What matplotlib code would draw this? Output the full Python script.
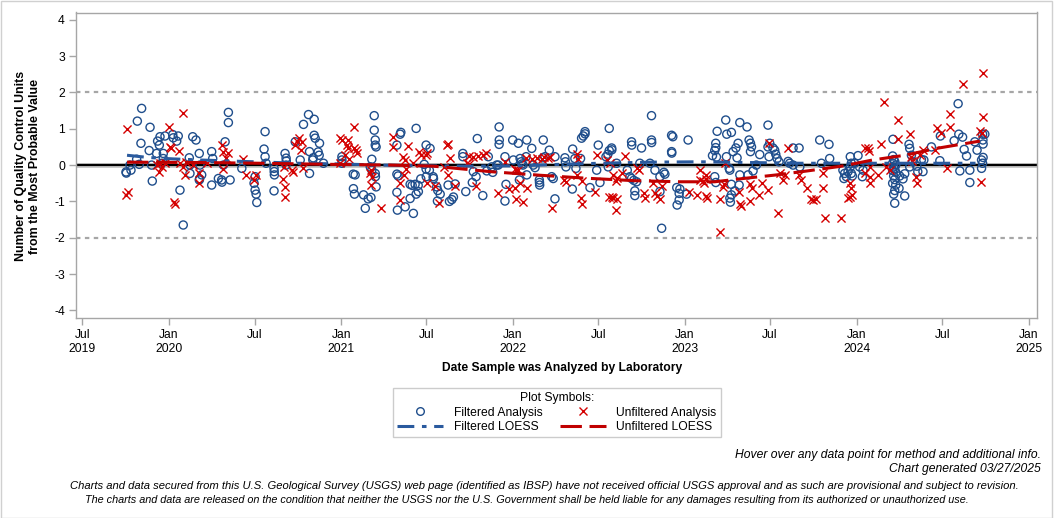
import datetime as dt
import matplotlib
matplotlib.use("Agg")
import matplotlib.pyplot as plt
import matplotlib.dates as mdates
from matplotlib.lines import Line2D
from matplotlib.patches import Rectangle

plt.rcParams["font.family"] = ["Liberation Sans", "DejaVu Sans"]
plt.rcParams["axes.unicode_minus"] = False

# Filtered analysis (decimal year, QC units)
f_year = [
    2019.841, 2019.816, 2019.890, 2019.837, 2019.885, 2019.750, 2019.752, 2019.779, 2019.773, 2019.827,
    2019.812, 2019.899, 2019.903, 2019.934, 2019.948, 2019.944, 2019.928, 2019.967, 2019.977, 2020.022,
    2020.025, 2020.045, 2020.054, 2019.967, 2019.958, 2020.064, 2020.083, 2020.138, 2020.157, 2020.118,
    2020.176, 2020.122, 2020.190, 2020.176, 2020.178, 2020.122, 2020.180, 2020.248, 2020.254, 2020.248,
    2020.287, 2020.306, 2020.308, 2020.355, 2020.326, 2020.345, 2020.345, 2020.316, 2020.423, 2020.558,
    2020.552, 2020.558, 2020.564, 2020.500, 2020.494, 2020.500, 2020.506, 2020.510, 2020.610, 2020.611,
    2020.612, 2020.610, 2020.674, 2020.680, 2020.681, 2020.680, 2020.781, 2020.762, 2020.810, 2020.816,
    2020.816, 2020.733, 2020.843, 2020.843, 2020.849, 2020.874, 2020.866, 2020.872, 2020.837, 2020.835,
    2020.897, 2021.004, 2021.004, 2021.004, 2021.070, 2021.081, 2021.071, 2021.077, 2021.130, 2021.157,
    2021.173, 2021.140, 2021.192, 2021.192, 2021.198, 2021.198, 2021.203, 2021.178, 2021.169, 2021.178,
    2021.198, 2021.199, 2021.203, 2021.324, 2021.331, 2021.324, 2021.327, 2021.343, 2021.347, 2021.324,
    2021.372, 2021.420, 2021.436, 2021.401, 2021.413, 2021.430, 2021.448, 2021.449, 2021.436, 2021.401,
    2021.463, 2021.494, 2021.517, 2021.483, 2021.494, 2021.513, 2021.495, 2021.535, 2021.537, 2021.556,
    2021.562, 2021.576, 2021.560, 2021.622, 2021.630, 2021.644, 2021.653, 2021.663, 2021.708, 2021.708,
    2021.725, 2021.763, 2021.769, 2021.785, 2021.792, 2021.824, 2021.856, 2021.847, 2021.882, 2021.919,
    2021.919, 2021.914, 2021.920, 2021.998, 2022.031, 2022.080, 2022.176, 2021.876, 2021.953, 2021.905,
    2021.959, 2021.953, 2022.002, 2022.041, 2022.047, 2022.052, 2022.058, 2022.076, 2022.109, 2022.080,
    2022.037, 2022.118, 2022.128, 2022.153, 2022.154, 2022.155, 2022.174, 2022.186, 2022.211, 2022.225,
    2022.234, 2022.244, 2022.244, 2022.302, 2022.305, 2022.308, 2022.347, 2022.345, 2022.360, 2022.366,
    2022.399, 2022.409, 2022.419, 2022.419, 2022.393, 2022.448, 2022.496, 2022.487, 2022.506, 2022.560,
    2022.541, 2022.552, 2022.560, 2022.574, 2022.575, 2022.554, 2022.603, 2022.665, 2022.680, 2022.690,
    2022.703, 2022.719, 2022.690, 2022.691, 2022.709, 2022.709, 2022.748, 2022.738, 2022.806, 2022.806,
    2022.807, 2022.797, 2022.826, 2022.855, 2022.878, 2022.884, 2022.855, 2022.865, 2022.923, 2022.930,
    2022.923, 2022.924, 2023.019, 2022.953, 2022.971, 2022.967, 2022.967, 2022.955, 2023.010, 2023.238,
    2023.188, 2023.244, 2023.271, 2023.180, 2023.180, 2023.174, 2023.161, 2023.184, 2023.281, 2023.297,
    2023.310, 2023.242, 2023.258, 2023.262, 2023.174, 2023.180, 2023.271, 2023.291, 2023.271, 2023.262,
    2023.265, 2023.316, 2023.320, 2023.362, 2023.374, 2023.382, 2023.388, 2023.382, 2023.304, 2023.320,
    2023.368, 2023.397, 2023.416, 2023.436, 2023.484, 2023.484, 2023.494, 2023.490, 2023.513, 2023.523,
    2023.529, 2023.537, 2023.548, 2023.601, 2023.610, 2023.630, 2023.630, 2023.665, 2023.785, 2023.839,
    2023.843, 2023.795, 2023.669, 2023.920, 2023.930, 2023.926, 2023.940, 2023.950, 2023.963, 2023.969,
    2023.963, 2023.969, 2023.975, 2023.988, 2024.008, 2024.017, 2024.033, 2024.037, 2024.211, 2024.209,
    2024.215, 2024.221, 2024.209, 2024.227, 2024.215, 2024.221, 2024.209, 2024.227, 2024.215, 2024.221,
    2024.209, 2024.227, 2024.221, 2024.215, 2024.221, 2024.304, 2024.308, 2024.318, 2024.326, 2024.308,
    2024.279, 2024.269, 2024.250, 2024.246, 2024.279, 2024.376, 2024.390, 2024.349, 2024.355, 2024.385,
    2024.434, 2024.486, 2024.483, 2024.566, 2024.589, 2024.593, 2024.615, 2024.599, 2024.624, 2024.638,
    2024.657, 2024.657, 2024.686, 2024.699, 2024.731, 2024.744, 2024.734, 2024.734, 2024.725, 2024.731,
    2024.725, 2024.733,
]
f_value = [
    1.56, 1.21, 1.04, 0.60, 0.40, -0.19, -0.22, -0.14, 0.00, 0.02,
    0.16, 0.00, -0.44, 0.66, 0.78, 0.55, 0.32, 0.32, 0.80, 0.84,
    0.75, 0.66, 0.80, 0.18, 0.05, -0.69, -1.65, 0.78, 0.69, 0.20,
    0.32, -0.23, -0.27, -0.41, -0.38, 0.00, 0.00, 0.37, 0.18, -0.55,
    -0.37, -0.41, -0.47, -0.41, 0.64, 1.45, 1.17, 0.00, -0.09, 0.92,
    0.44, 0.23, 0.05, -0.32, -0.50, -0.69, -0.80, -1.03, -0.09, -0.18,
    -0.27, -0.71, 0.32, 0.19, 0.11, 0.00, 1.12, 0.14, 1.39, 0.37,
    -0.23, 0.64, 1.26, 0.82, 0.74, 0.60, 0.36, 0.27, 0.20, 0.14,
    0.05, 0.23, 0.14, 0.05, -0.25, -0.27, -0.65, -0.80, -0.82, -0.93,
    -0.89, -1.19, 1.36, 0.96, 0.69, 0.55, 0.50, 0.16, -0.05, -0.14,
    -0.23, -0.32, -0.60, -0.25, -0.30, -0.75, -1.24, 0.85, 0.90, 0.55,
    -1.15, -1.33, 1.01, -0.53, -0.56, -0.53, -0.56, -0.73, -0.80, -0.92,
    -0.38, 0.55, 0.46, 0.02, -0.11, -0.14, -0.32, -0.32, -0.37, -0.60,
    -0.70, -0.80, -0.99, -0.55, -1.00, -0.95, -0.88, -0.52, 0.32, 0.23,
    -0.73, -0.48, -0.18, -0.32, 0.73, -0.84, 0.23, -0.16, -0.20, 1.05,
    0.57, 0.00, 0.69, 0.69, 0.60, 0.69, 0.69, -0.05, 0.23, 0.00,
    -0.53, -0.99, 0.14, 0.18, 0.09, 0.03, 0.00, 0.23, 0.46, -0.27,
    -0.41, 0.00, -0.07, -0.41, -0.48, -0.55, 0.20, 0.23, 0.41, -0.32,
    -0.37, 0.23, -0.93, 0.20, 0.09, -0.05, 0.44, -0.66, 0.18, -0.09,
    0.74, 0.80, 0.92, 0.86, 0.18, -0.62, 0.55, -0.14, -0.48, 1.01,
    0.23, 0.30, 0.40, 0.47, 0.42, -0.05, 0.05, -0.14, -0.32, -0.37,
    -0.42, -0.46, 0.64, 0.55, -0.71, -0.84, 0.47, 0.05, 1.36, 0.69,
    0.62, 0.05, -0.14, -0.32, -0.20, -0.25, -0.73, -1.74, 0.82, 0.78,
    0.37, 0.33, 0.69, -0.62, -0.66, -0.78, -0.96, -1.10, -0.80, 1.24,
    0.93, 0.85, 0.90, 0.60, 0.48, 0.40, 0.26, 0.22, 0.37, 0.47,
    0.60, 0.23, -0.09, -0.14, -0.32, -0.48, -0.53, -0.71, -0.82, -0.91,
    -1.02, -0.55, 1.17, 1.05, 0.69, 0.60, 0.50, 0.37, 0.20, -0.27,
    -0.27, -0.16, 0.00, 0.29, 1.10, 0.50, 0.60, 0.23, 0.47, 0.41,
    0.30, 0.18, 0.09, 0.10, 0.05, 0.00, 0.47, 0.47, 0.69, 0.57,
    0.18, 0.05, -0.05, -0.14, -0.23, -0.37, -0.32, -0.18, 0.23, 0.05,
    -0.05, -0.23, -0.30, 0.05, 0.26, -0.05, -0.32, -0.14, 0.71, 0.25,
    0.15, 0.10, 0.05, 0.00, -0.05, -0.10, -0.15, -0.20, -0.30, -0.40,
    -0.50, -0.55, -0.70, -0.80, -1.05, 0.57, 0.46, 0.27, 0.09, -0.05,
    -0.24, -0.38, -0.30, -0.64, -0.85, 0.15, 0.14, -0.03, -0.18, -0.18,
    0.50, 0.80, 0.12, 0.67, 1.69, 0.85, 0.77, -0.16, 0.43, 0.25,
    -0.14, -0.48, 0.64, 0.41, 0.85, 0.85, 0.58, 0.21, 0.14, 0.05,
    -0.09, 0.69,
]

# Unfiltered analysis
u_year = [
    2019.758, 2019.762, 2019.750, 2020.083, 2020.002, 2020.006, 2020.010, 2020.060, 2019.948, 2019.958,
    2019.944, 2019.928, 2019.977, 2020.031, 2020.033, 2020.064, 2020.093, 2020.099, 2020.080, 2020.176,
    2020.176, 2020.141, 2020.219, 2020.306, 2020.314, 2020.345, 2020.312, 2020.331, 2020.428, 2020.448,
    2020.506, 2020.494, 2020.665, 2020.661, 2020.674, 2020.674, 2020.733, 2020.742, 2020.752, 2020.771,
    2020.766, 2020.719, 2020.715, 2020.777, 2021.076, 2020.990, 2021.004, 2021.042, 2021.033, 2021.042,
    2021.072, 2021.087, 2021.091, 2021.023, 2021.048, 2020.990, 2021.173, 2021.169, 2021.178, 2021.173,
    2021.233, 2021.302, 2021.301, 2021.391, 2021.362, 2021.372, 2021.378, 2021.366, 2021.343, 2021.343,
    2021.455, 2021.463, 2021.494, 2021.498, 2021.420, 2021.498, 2021.547, 2021.572, 2021.614, 2021.624,
    2021.634, 2021.601, 2021.624, 2021.663, 2021.746, 2021.766, 2021.798, 2021.824, 2021.843, 2021.731,
    2021.746, 2021.785, 2021.914, 2021.953, 2022.012, 2022.017, 2021.979, 2022.012, 2022.017, 2022.060,
    2022.083, 2022.041, 2022.076, 2022.109, 2022.137, 2022.167, 2022.180, 2022.205, 2022.215, 2022.031,
    2022.225, 2022.297, 2022.308, 2022.374, 2022.380, 2022.374, 2022.399, 2022.393, 2022.399, 2022.477,
    2022.486, 2022.548, 2022.564, 2022.560, 2022.574, 2022.583, 2022.603, 2022.599, 2022.651, 2022.583,
    2022.599, 2022.632, 2022.603, 2022.719, 2022.734, 2022.762, 2022.767, 2022.816, 2022.826, 2022.836,
    2022.855, 2022.865, 2023.025, 2023.087, 2023.091, 2023.103, 2023.110, 2023.126, 2023.126, 2023.068,
    2023.122, 2023.130, 2023.227, 2023.223, 2023.207, 2023.203, 2023.233, 2023.316, 2023.320, 2023.324,
    2023.382, 2023.393, 2023.382, 2023.432, 2023.452, 2023.484, 2023.490, 2023.601, 2023.542, 2023.572,
    2023.552, 2023.581, 2023.665, 2023.678, 2023.711, 2023.737, 2023.746, 2023.762, 2023.804, 2023.804,
    2023.814, 2023.911, 2023.950, 2023.959, 2023.963, 2023.969, 2023.975, 2024.047, 2024.066, 2024.072,
    2024.047, 2024.076, 2024.079, 2024.124, 2024.076, 2024.157, 2024.240, 2024.240, 2024.308, 2024.143,
    2024.172, 2024.192, 2024.318, 2024.324, 2024.347, 2024.351, 2024.370, 2024.385, 2024.453, 2024.465,
    2024.492, 2024.541, 2024.541, 2024.525, 2024.615, 2024.715, 2024.725, 2024.734, 2024.734, 2024.721,
]
u_value = [
    0.99, -0.74, -0.82, 1.42, 1.05, 0.49, 0.46, 0.38, 0.05, -0.06,
    -0.19, 0.00, 0.05, -1.03, -1.06, 0.05, -0.27, 0.09, -0.05, -0.23,
    -0.48, 0.00, 0.05, 0.55, 0.37, 0.33, -0.11, 0.20, 0.16, -0.26,
    -0.26, -0.41, -0.05, -0.38, -0.60, -0.87, 0.55, 0.65, 0.74, 0.64,
    0.41, -0.18, -0.14, -0.07, 1.05, 0.75, 0.69, 0.69, 0.55, 0.48,
    0.48, 0.41, 0.32, 0.27, 0.18, 0.05, -0.14, -0.23, -0.32, -0.55,
    -1.17, 0.78, 0.50, 0.53, 0.23, 0.14, -0.11, -0.27, -0.50, -0.96,
    0.36, 0.27, 0.27, 0.33, 0.05, -0.48, -0.57, -1.05, 0.56, 0.58,
    0.20, -0.05, -0.26, -0.57, 0.24, 0.22, 0.24, 0.29, 0.32, 0.05,
    0.03, -0.57, -0.78, 0.09, -0.10, -0.14, -0.65, -0.63, -0.94, -1.02,
    -0.64, -0.48, 0.20, 0.18, 0.20, 0.17, 0.22, 0.20, 0.22, -0.14,
    -1.19, -0.41, -0.47, 0.30, 0.18, -0.27, -0.44, -0.91, -1.08, -0.75,
    0.27, 0.14, 0.05, -0.87, -0.89, -0.91, -0.93, -1.24, 0.26, -0.27,
    -0.44, -0.22, -0.36, -0.07, -0.13, -0.78, -0.91, -0.50, -0.78, -0.84,
    -0.93, -0.57, -0.73, -0.14, -0.41, -0.45, -0.50, -0.27, -0.38, -0.82,
    -0.84, -0.91, -0.52, -0.60, -0.93, -1.85, 0.05, -0.74, -1.08, -1.12,
    -0.52, -0.63, -1.00, -0.82, -0.50, -0.69, 0.62, 0.46, -1.33, -0.41,
    -0.23, -0.27, -0.27, -0.41, -0.64, -0.93, -0.96, -0.93, -0.23, -0.64,
    -1.45, -1.46, -0.90, -0.88, -0.48, -0.64, -0.82, 0.47, 0.47, 0.38,
    -0.23, -0.34, -0.48, -0.27, -0.05, 1.74, 1.24, 0.73, 0.85, 0.58,
    -0.05, -0.14, 0.23, 0.12, -0.32, -0.50, 0.27, 0.41, 0.41, 1.01,
    0.87, 1.40, 1.04, -0.09, 2.24, 0.94, 0.89, 1.31, 2.54, -0.46,
]

# LOESS curves
fl_year = [2019.756, 2019.878, 2020.023, 2020.180, 2020.366, 2020.564, 2020.750, 2020.994,
           2021.227, 2021.459, 2021.750, 2022.040, 2022.270, 2022.506, 2022.797, 2023.087,
           2023.378, 2023.669, 2023.960, 2024.250, 2024.540, 2024.690]
fl_value = [0.27, 0.21, 0.17, 0.14, 0.11, 0.08, 0.05, 0.03, 0.00, -0.02, -0.03, -0.02,
            0.02, 0.05, 0.08, 0.09, 0.07, 0.05, 0.05, 0.05, 0.05, 0.05]
ul_year = [2019.756, 2020.180, 2020.529, 2020.936, 2021.285, 2021.535, 2021.866, 2022.157,
           2022.419, 2022.709, 2022.971, 2023.174, 2023.320, 2023.535, 2023.715, 2023.913,
           2024.093, 2024.279, 2024.465, 2024.715]
ul_value = [0.08, 0.07, 0.05, 0.02, 0.00, -0.03, -0.18, -0.28, -0.36, -0.43, -0.46, -0.46,
            -0.38, -0.27, -0.16, -0.03, 0.14, 0.27, 0.46, 0.66]

tick_dates = ["2019-07-01", "2020-01-01", "2020-07-01", "2021-01-01", "2021-07-01", "2022-01-01",
              "2022-07-01", "2023-01-01", "2023-07-01", "2024-01-01", "2024-07-01", "2025-01-01"]
tick_labels = ["Jul\n2019", "Jan\n2020", "Jul", "Jan\n2021", "Jul", "Jan\n2022",
               "Jul", "Jan\n2023", "Jul", "Jan\n2024", "Jul", "Jan\n2025"]
y_ticks = [-4, -3, -2, -1, 0, 1, 2, 3, 4]


def to_date(y):
    yr = int(y)
    start = dt.datetime(yr, 1, 1)
    return start + (dt.datetime(yr + 1, 1, 1) - start) * (y - yr)


def conv(years):
    return [to_date(y) for y in years]


BLUE = "#1f4e8c"
RED = "#d40000"
GRAY = "#a6a6a6"

fig = plt.figure(figsize=(10.56, 5.18), dpi=100)
ax = fig.add_axes([76 / 1056, 1 - 318 / 518, (1037 - 76) / 1056, (318 - 12.5) / 518])

ax.axhline(0, color="#c8c8c8", lw=3.5, zorder=1)
ax.axhline(0, color="black", lw=1.6, zorder=1.1)
for yv in (2, -2):
    ax.axhline(yv, color=GRAY, lw=1.6, ls=(0, (2, 2)), zorder=1)

ax.scatter(conv(f_year), f_value, s=34, facecolors="none", edgecolors=BLUE, linewidths=1.0, zorder=2)
ax.scatter(conv(u_year), u_value, s=34, marker="x", color=RED, linewidths=1.0, zorder=2.1)

ax.plot(conv(fl_year), fl_value, color="#2a5a9e", lw=2.2, dashes=(5.5, 2.5, 1.5, 2.5), zorder=3)
ax.plot(conv(ul_year), ul_value, color="#c00000", lw=2.2, dashes=(7, 2.5), zorder=3.1)

ax.set_xlim(to_date(2019.459), to_date(2025.047))
ax.set_ylim(-4.21, 4.2)
ax.set_xticks([mdates.datestr2num(d) for d in tick_dates])
ax.set_xticklabels(tick_labels)
ax.set_yticks(y_ticks)
ax.set_yticklabels([str(t) for t in y_ticks])
ax.tick_params(axis="both", direction="out", length=5, width=1, color=GRAY, labelsize=8.7, pad=3)
for sp in ax.spines.values():
    sp.set_color(GRAY)
    sp.set_linewidth(1)

fig.text(28 / 1056, 1 - 166 / 518, "Number of Quality Control Units\nfrom the Most Probable Value",
         rotation=90, ha="center", va="center", fontsize=8.9, fontweight="bold", linespacing=1.25)
fig.text(562 / 1056, 1 - 368 / 518, "Date Sample was Analyzed by Laboratory",
         ha="center", va="center", fontsize=8.7, fontweight="bold")

handles = [
    Line2D([], [], ls="none", marker="o", mfc="none", mec=BLUE, ms=5.5, mew=1.0),
    Line2D([], [], color="#2a5a9e", lw=2.2, dashes=(5.5, 2.5, 1.5, 2.5)),
    Line2D([], [], ls="none", marker="x", color=RED, ms=6, mew=1.0),
    Line2D([], [], color="#c00000", lw=2.2, dashes=(7, 2.5)),
]
labels = ["Filtered Analysis", "Filtered LOESS", "Unfiltered Analysis", "Unfiltered LOESS"]
leg = fig.legend(handles, labels, ncol=2, title="Plot Symbols:", loc="upper center",
                 bbox_to_anchor=(557 / 1056, 1 - 388 / 518), borderaxespad=0,
                 fontsize=8.7, title_fontsize=8.7,
                 frameon=True, fancybox=False, edgecolor="#c0c0c0", handlelength=3.8,
                 handletextpad=0.9, columnspacing=1.4, labelspacing=0.2, borderpad=0.35)
leg.get_frame().set_linewidth(1)

fig.text(1041 / 1056, 1 - 455 / 518, "Hover over any data point for method and additional info.",
         ha="right", va="center", fontsize=8.7, style="italic")
fig.text(1041 / 1056, 1 - 469 / 518, "Chart generated 03/27/2025",
         ha="right", va="center", fontsize=8.7, style="italic")
fig.text(544 / 1056, 1 - 486 / 518,
         "Charts and data secured from this U.S. Geological Survey (USGS) web page (identified as IBSP) "
         "have not received official USGS approval and as such are provisional and subject to revision.",
         ha="center", va="center", fontsize=8.1, style="italic")
fig.text(527 / 1056, 1 - 500 / 518,
         "The charts and data are released on the condition that neither the USGS nor the U.S. Government "
         "shall be held liable for any damages resulting from its authorized or unauthorized use.",
         ha="center", va="center", fontsize=7.85, style="italic")

fig.patches.append(Rectangle((0.5 / 1056, 0.5 / 518), 1051 / 1056, 516.5 / 518,
                             transform=fig.transFigure, fill=False, edgecolor="#d0d0d0", lw=1))

fig.savefig("out.png", dpi=100)
